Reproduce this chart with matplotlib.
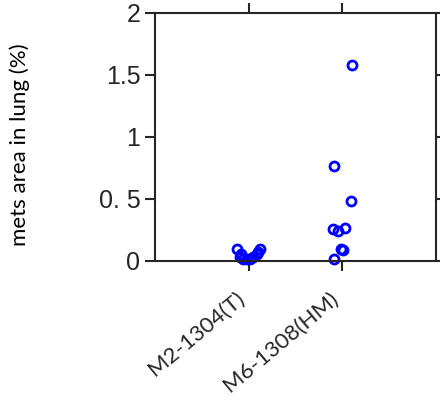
import matplotlib.pyplot as plt
import matplotlib.transforms as mtransforms

# group names and measured values (mets area in lung, %)
groups = ["M2-1304(T)", "M6-1308(HM)"]
t_vals = [0.10, 0.06, 0.035, 0.02, 0.015, 0.02, 0.035, 0.06, 0.10, 0.075]
t_jitter = [-0.12, -0.085, -0.095, -0.065, -0.02, 0.01, 0.045, 0.085, 0.12, 0.095]
hm_vals = [1.58, 0.77, 0.48, 0.26, 0.24, 0.27, 0.10, 0.09, 0.02]
hm_jitter = [0.10, -0.085, 0.09, -0.095, -0.05, 0.03, -0.015, 0.01, -0.085]

ytick_vals = [0, 0.5, 1, 1.5, 2]
ytick_labels = ["0", "0. 5", "1", "1.5", "2"]

dark = "#262626"

fig = plt.figure(figsize=(4.4, 4.0), dpi=100)
ax = fig.add_axes([0.352, 0.3475, 0.639, 0.62])

ax.plot([1 + j for j in t_jitter], t_vals, 'o', mfc='none', mec='blue',
        ms=6.5, mew=2, clip_on=False)
ax.plot([2 + j for j in hm_jitter], hm_vals, 'o', mfc='none', mec='blue',
        ms=6.5, mew=2, clip_on=False)

ax.set_xlim(0, 3)
ax.set_ylim(0, 2)
ax.set_yticks(ytick_vals)
ax.set_yticklabels(ytick_labels, fontsize=18, color=dark, family="Liberation Sans")
ax.set_xticks([1, 2])
ax.set_xticklabels([])

# rotated group labels, placed below-left of each tick
offset = mtransforms.ScaledTranslation(-13 / 100, -27 / 100, fig.dpi_scale_trans)
for i, g in enumerate(groups):
    ax.text(i + 1, 0, g, transform=ax.get_xaxis_transform() + offset,
            rotation=40, ha='right', va='top', rotation_mode='anchor',
            fontsize=16, color=dark, family="Lato")

ax.tick_params(direction='out', length=7, width=1.5, colors=dark,
               top=True, right=True, labeltop=False, labelright=False)
for s in ax.spines.values():
    s.set_linewidth(1.5)
    s.set_color(dark)

ax.set_ylabel("mets area in lung (%)", fontsize=16, family="Lato", color='black')
ax.yaxis.set_label_coords(-0.444, 0.468)

fig.savefig("out.png", dpi=100)
